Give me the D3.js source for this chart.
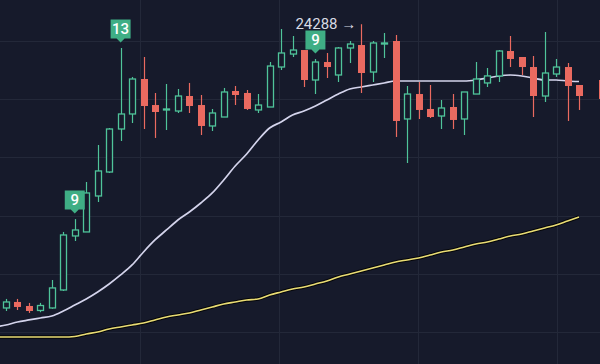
<!DOCTYPE html>
<html><head><meta charset="utf-8">
<script src="https://cdn.jsdelivr.net/npm/d3@7"></script>
<style>html,body{margin:0;padding:0;background:#161a2b;overflow:hidden}</style>
</head><body><svg id="c" width="600" height="364"></svg>
<script>
// ---- data ----
const open  = [19413,19516,19447,19370,19413,19722,20650,20719,21337,21749,22488,22746,23347,22900,22815,22797,23055,22900,22540,22694,23141,23107,22815,22866,23553,23776,23845,23330,23639,23416,23880,23931,23467,23948,24000,22660,23089,22832,22711,22866,22660,23089,23279,23399,23828,23725,23553,23055,23433,23553,23244,null,23330];
const close = [19516,19430,19361,19455,19757,20667,20753,21389,21767,22488,22746,23347,22883,22780,22832,23055,22883,22540,22763,23124,23072,22832,22900,23570,23794,23845,23330,23639,23553,23880,23948,23450,23966,23966,22626,23089,22815,22694,22849,22643,23124,23347,23400,23828,23691,23553,23055,23450,23553,23227,23055,null,23004];
const high  = [19568,19568,19499,19500,19894,20719,20940,21577,22213,22505,23880,23382,23725,23107,23261,23175,23279,23072,22832,23193,23227,23158,23089,23639,24206,24086,23845,23690,23794,23897,24000,24288,24000,24137,24103,23227,23296,23244,22986,23089,23124,23639,23536,23845,24086,23725,23742,24155,23691,23622,23244,null,23330];
const low   = [19361,19378,19327,19340,19400,19705,20564,20719,21234,21732,22282,22591,22488,22334,22471,22763,22763,22385,22454,22694,22900,22815,22763,22866,23502,23725,23210,23089,23364,23296,23622,23107,23296,23708,22351,21904,22660,22677,22488,22488,22385,23089,23210,23296,23553,23416,22694,22952,23382,22626,22815,null,23004];
// moving averages start one bar before the first visible candle
const maStart = -1;
const maWhite  = [19087,19121,19172,19207,19241,19275,19361,19464,19568,19688,19825,19980,20152,20375,20581,20753,20925,21062,21217,21389,21612,21852,22059,22299,22505,22608,22729,22797,22883,22986,23089,23175,23210,23244,23278,23313,23313,23313,23313,23313,23313,23313,23330,23364,23399,23416,23399,23364,23330,23330,23313,23304];
const maYellow = [18915,18915,18915,18915,18915,18915,18915,18924,18966,19001,19052,19087,19121,19155,19207,19258,19293,19327,19379,19430,19482,19516,19550,19568,19636,19688,19739,19774,19825,19877,19946,19997,20049,20100,20152,20203,20238,20272,20323,20375,20409,20461,20512,20547,20598,20650,20684,20736,20787,20839,20908,20976];
const priceTicks = [19000,20000,21000,22000,23000,24000];
const timeTicks = [11.7, 23.85, 35.95, 48.1];
const flagIdx = [6, 10, 27];
const flagText = ["9", "13", "9"];
const highIdx = 31;
const highLabel = "24288 \u2192";

// ---- chart ----
const W = 600, H = 364;
const svg = d3.select("#c");
const x = d3.scaleLinear().domain([0, 50]).range([6, 579]);
const y = d3.scaleLinear().domain([19000, 24000]).range([332, 41]);
const GREEN = "#4fc49a", RED = "#ea6a60", BG = "#161a2b", GRID = "#232839";

svg.append("rect").attr("width", W).attr("height", H).attr("fill", BG);

const g = svg.append("g");
g.selectAll("line.hg").data(priceTicks).join("line")
  .attr("x1", 0).attr("x2", W)
  .attr("y1", d => Math.round(y(d)) + 0.5).attr("y2", d => Math.round(y(d)) + 0.5)
  .attr("stroke", GRID).attr("stroke-width", 1);
g.selectAll("line.vg").data(timeTicks).join("line")
  .attr("y1", 0).attr("y2", H)
  .attr("x1", d => Math.round(x(d)) + 0.5).attr("x2", d => Math.round(x(d)) + 0.5)
  .attr("stroke", GRID).attr("stroke-width", 1);

// moving averages
const maPts = arr => arr.map((v, i) => [maStart + i, v]);
const line = d3.line().x(d => x(d[0])).y(d => y(d[1])).curve(d3.curveMonotoneX);
svg.append("path").attr("d", line(maPts(maYellow))).attr("fill", "none")
  .attr("stroke", "#05060a").attr("stroke-width", 3.6).attr("stroke-linejoin", "round");
svg.append("path").attr("d", line(maPts(maYellow))).attr("fill", "none")
  .attr("stroke", "#e9dc74").attr("stroke-width", 1.6).attr("stroke-linejoin", "round");
svg.append("path").attr("d", line(maPts(maWhite))).attr("fill", "none")
  .attr("stroke", "#d4d4ec").attr("stroke-width", 1.7).attr("stroke-linejoin", "round");

// candles
const bars = open.map((o, i) => ({i, o, c: close[i], h: high[i], l: low[i]})).filter(d => d.o != null);
const cg = svg.append("g");
const bw = 7;
bars.forEach(d => {
  const up = d.c >= d.o;
  const col = up ? GREEN : RED;
  const cx = Math.round(x(d.i)) + 0.5;
  const top = y(Math.max(d.o, d.c)), bot = y(Math.min(d.o, d.c));
  cg.append("line").attr("x1", cx).attr("x2", cx).attr("y1", y(d.h)).attr("y2", y(d.l))
    .attr("stroke", col).attr("stroke-width", 1.2);
  if (up) {
    cg.append("rect").attr("x", cx - 3).attr("width", 6)
      .attr("y", top).attr("height", Math.max(1, bot - top))
      .attr("fill", BG).attr("stroke", col).attr("stroke-width", 1.3);
  } else {
    cg.append("rect").attr("x", cx - bw / 2).attr("width", bw)
      .attr("y", top).attr("height", Math.max(1.5, bot - top)).attr("fill", col);
  }
});

// flags
flagIdx.forEach((fi, k) => {
  const cx = x(fi);
  const tip = y(high[fi]) - 5.5;
  const bh = 19, bwid = 20, pt = 4;
  const b = tip - pt;
  const path = `M${cx - bwid/2},${b - bh} h${bwid} v${bh} h${-(bwid/2 - 4)} l-4,${pt} l-4,${-pt} h${-(bwid/2 - 4)} Z`;
  svg.append("path").attr("d", path).attr("fill", "#3fae85");
  svg.append("text").attr("x", cx).attr("y", b - bh / 2 + 5.2)
    .attr("text-anchor", "middle").attr("fill", "#ffffff")
    .attr("font-family", "Roboto, 'Noto Sans', sans-serif").attr("font-size", 15).attr("font-weight", 500)
    .text(flagText[k]);
});

// high label
svg.append("text").attr("x", x(highIdx) - 5).attr("y", y(high[highIdx]) + 4.5)
  .attr("text-anchor", "end").attr("fill", "#d8dae4")
  .attr("font-family", "Roboto, 'Noto Sans', sans-serif").attr("font-size", 15)
  .text(highLabel);
</script></body></html>
